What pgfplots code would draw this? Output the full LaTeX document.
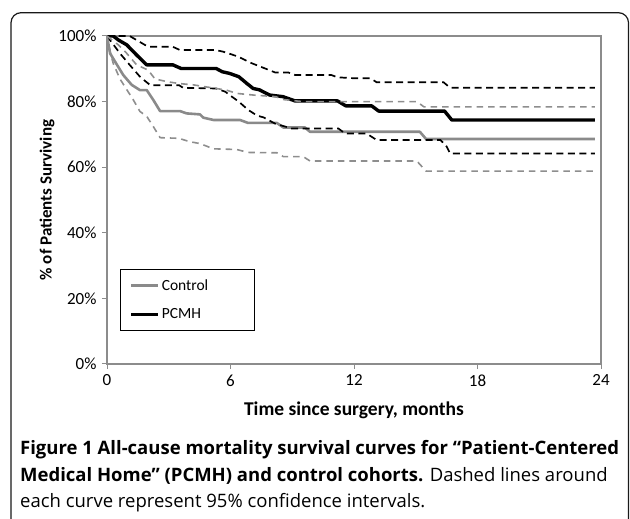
\documentclass[border=0pt]{standalone}
\usepackage{pgfplots}
\pgfplotsset{compat=1.18}
\usepackage{fontspec}
\setmainfont{Carlito}
\newfontfamily\capfont{Open Sans}
\definecolor{axgray}{HTML}{8C8C8C}
\definecolor{cgray}{HTML}{8A8A8A}
\definecolor{dgray}{HTML}{8E8E8E}
\begin{document}
\begin{tikzpicture}[x=1pt,y=1pt]
\path[use as bounding box] (0,0) rectangle (630,519);
\draw[line width=1.2pt, color=black!90, rounded corners=10pt] (11,-20) -- (11,506.3) -- (628.5,506.3) -- (628.5,-20);
\begin{axis}[
  at={(107pt,155pt)}, anchor=south west,
  scale only axis, width=494pt, height=328pt,
  xmin=0, xmax=24, ymin=0, ymax=100,
  xtick={0,6,12,18,24}, ytick={0,20,40,60,80,100},
  yticklabel={\pgfmathprintnumber{\tick}\%},
  /pgf/number format/assume math mode=true,
  tick label style={font=\fontsize{17}{20}\selectfont},
  yticklabel style={xshift=-2pt},
  xticklabel style={yshift=-2pt},
  tick align=outside, tick pos=left, major tick length=5pt,
  axis line style={axgray, line width=1.1pt},
  every tick/.style={axgray, line width=1pt},
  xlabel={\textbf{Time since surgery, months}},
  ylabel={\textbf{\% of Patients Surviving}},
  xlabel style={font=\fontsize{19.5}{22}\selectfont, at={(axis description cs:0.5,-0.14)}, anchor=center},
  ylabel style={font=\fontsize{17}{20}\selectfont, at={(axis description cs:-0.1215,0.5)}, anchor=center},
  legend style={at={(axis description cs:0.0263,0.2896)}, anchor=north west,
    draw=black, line width=0.8pt, inner xsep=9pt, inner ysep=8pt, row sep=13pt,
    font=\fontsize{15.5}{18}\selectfont},
  legend cell align=left,
  legend image code/.code={\draw[#1] (0pt,0pt) -- (27pt,0pt);},
]
% Control
\addplot[cgray, line width=2.6pt, line join=round] coordinates {
(0,100)(0.15,94.7)(0.39,92.2)(0.79,88.1)(1.2,85.1)(1.6,83.5)(1.93,83.5)(2.25,80.5)(2.58,77.1)(3.55,77.1)(3.87,76.4)(4.52,76.1)(4.68,75.1)(5.17,74.4)(6.46,74.4)(6.85,73.5)(8.25,73.5)(8.57,72.1)(9.62,72.1)(9.86,70.8)(15.2,70.8)(15.5,68.6)(23.7,68.6)};
\addlegendentry{\makebox[82pt][l]{Control}}
% PCMH
\addplot[black, line width=3.4pt, line join=round] coordinates {
(0,100)(0.3,100)(0.55,98.8)(0.96,97.3)(1.44,94.2)(1.93,91.2)(3.2,91.2)(3.6,90.1)(5.3,90.1)(5.6,89.1)(5.95,88.6)(6.4,87.6)(6.8,85.5)(7.1,84)(7.4,83.6)(7.9,82)(8.55,81.5)(9.14,80.2)(11.2,80.2)(11.6,78.7)(12.86,78.7)(13.2,77.1)(16.4,77.1)(16.75,74.4)(23.7,74.4)};
\addlegendentry{PCMH}
% PCMH upper CI
\addplot[black, line width=1.7pt, dash pattern=on 7pt off 4.5pt, forget plot] coordinates {
(0,100)(1.1,100)(2.0,96.7)(3.2,96.7)(3.55,95.7)(5.3,95.7)(5.65,95.2)(6.0,94.5)(6.37,93.7)(7.03,91.7)(7.68,90.1)(8.16,88.9)(8.8,88.9)(9.14,88.1)(10.9,88.1)(11.2,87.4)(12.05,87.1)(12.8,87.1)(13.1,85.9)(16.35,85.9)(16.67,84.2)(23.7,84.2)};
% PCMH lower CI
\addplot[black, line width=1.7pt, dash pattern=on 7pt off 4.5pt, forget plot] coordinates {
(0,100)(0.63,94.7)(1.1,91.2)(1.6,87.6)(2.1,85)(3.5,85)(3.7,84.2)(5.3,84)(5.75,83)(6.0,81.8)(6.4,80)(6.85,77.5)(7.3,75.7)(7.6,75.2)(8.16,73.3)(8.97,71.8)(11.24,71.8)(11.56,70.3)(12.6,70.3)(13.1,68.3)(16.2,68.3)(16.5,66.3)(16.67,64.2)(23.7,64.2)};
% Control upper CI
\addplot[dgray, line width=1.6pt, dash pattern=on 6.5pt off 5pt, forget plot] coordinates {
(0,100)(0.55,97.3)(0.96,94.7)(1.44,91.2)(2.0,89.6)(2.33,86.9)(2.9,86.1)(3.5,85.5)(4.2,85.1)(5.8,83.5)(6.3,82.5)(7.1,82)(8.2,81.5)(8.6,80.6)(9.5,80)(15.05,80)(15.4,78.4)(23.7,78.4)};
% Control lower CI
\addplot[dgray, line width=1.6pt, dash pattern=on 6.5pt off 5pt, forget plot] coordinates {
(0,100)(0.15,95.2)(0.3,91.7)(0.63,86.9)(1.28,80.5)(1.6,77)(1.93,75.5)(2.2,72.9)(2.58,69)(3.5,68.8)(4.0,67.8)(4.52,67.2)(5.17,65.6)(6.3,65.4)(6.85,64.5)(8.25,64.4)(8.57,63.2)(9.54,63.2)(9.86,61.9)(15.05,61.9)(15.5,58.8)(23.7,58.8)};
\end{axis}
\node[anchor=base west, inner sep=0pt, font=\capfont\fontsize{18.5}{22}\selectfont] at (20,64) {\textbf{Figure 1 All-cause mortality survival curves for “Patient-Centered}};
\node[anchor=base west, inner sep=0pt, font=\capfont\fontsize{18.5}{22}\selectfont] at (20,37.3) {\textbf{Medical Home” (PCMH) and control cohorts.} Dashed lines around};
\node[anchor=base west, inner sep=0pt, font=\capfont\fontsize{18.5}{22}\selectfont] at (20,11) {each curve represent 95\% confidence intervals.};
\end{tikzpicture}
\end{document}
